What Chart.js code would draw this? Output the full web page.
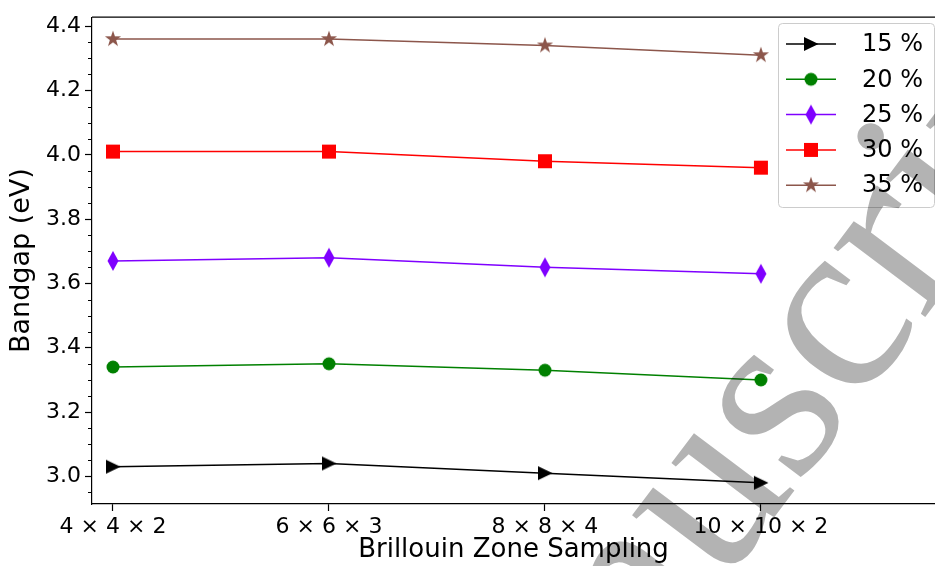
<!DOCTYPE html>
<html lang="en">
<head>
  <meta charset="UTF-8">
  <title>Bandgap vs Brillouin Zone Sampling</title>
  <script src="https://cdn.jsdelivr.net/npm/chart.js"></script>
  <style>
    body { margin: 0; background: #fff; overflow: hidden; }
  </style>
</head>
<body>

<canvas id="bandgapChart" width="935" height="566"></canvas>

<script>
// data
const categories = ['4 × 4 × 2', '6 × 6 × 3', '8 × 8 × 4', '10 × 10 × 2'];
const xPos = [0, 1, 2, 3];
const seriesLabels = ['15 %', '20 %', '25 %', '30 %', '35 %'];
const gap15 = [3.03, 3.04, 3.01, 2.98];
const gap20 = [3.34, 3.35, 3.33, 3.30];
const gap25 = [3.67, 3.68, 3.65, 3.63];
const gap30 = [4.01, 4.01, 3.98, 3.96];
const gap35 = [4.36, 4.36, 4.34, 4.31];
const yTicks = [3.0, 3.2, 3.4, 3.6, 3.8, 4.0, 4.2, 4.4];

const seriesValues = [gap15, gap20, gap25, gap30, gap35];
const colors = ['#000000', '#008000', '#7f00ff', '#ff0000', '#8c564b'];
const shapes = ['triRight', 'circle', 'thinDiamond', 'square', 'star'];
const FONT = 'DejaVu Sans';

// matplotlib-like markers drawn into small canvases
function makeMarker(shape, color) {
  var s = 24;
  var c = document.createElement('canvas');
  c.width = s; c.height = s;
  var g = c.getContext('2d');
  g.fillStyle = color;
  g.translate(s / 2, s / 2);
  g.beginPath();
  if (shape === 'triRight') {
    g.moveTo(7.5, 0); g.lineTo(-7, -7); g.lineTo(-7, 7);
  } else if (shape === 'circle') {
    g.arc(0, 0, 6.5, 0, Math.PI * 2);
  } else if (shape === 'thinDiamond') {
    g.moveTo(0, -10); g.lineTo(5.5, 0); g.lineTo(0, 10); g.lineTo(-5.5, 0);
  } else if (shape === 'square') {
    g.rect(-7, -7, 14, 14);
  } else if (shape === 'star') {
    for (var k = 0; k < 10; k++) {
      var r = k % 2 === 0 ? 8.5 : 3.3;
      var a = -Math.PI / 2 + k * Math.PI / 5;
      if (k === 0) g.moveTo(r * Math.cos(a), r * Math.sin(a));
      else g.lineTo(r * Math.cos(a), r * Math.sin(a));
    }
  }
  g.closePath();
  g.fill();
  return c;
}

var markers = shapes.map(function (sh, i) { return makeMarker(sh, colors[i]); });

var datasets = seriesValues.map(function (vals, i) {
  return {
    label: seriesLabels[i],
    data: xPos.map(function (x, j) { return { x: x, y: vals[j] }; }),
    borderColor: colors[i],
    backgroundColor: colors[i],
    borderWidth: 1.5,
    pointStyle: markers[i],
    pointRadius: 7,
    fill: false,
    tension: 0
  };
});

// spine, minor ticks, legend box and the watermark
var decorPlugin = {
  id: 'decor',
  afterDatasetsDraw: function (chart) {
    var ctx = chart.ctx, area = chart.chartArea;
    var yScale = chart.scales.y;
    ctx.save();
    // top spine
    ctx.strokeStyle = '#000';
    ctx.lineWidth = 1.2;
    ctx.beginPath();
    ctx.moveTo(area.left, area.top);
    ctx.lineTo(area.right, area.top);
    ctx.stroke();
    // minor y ticks
    ctx.lineWidth = 1;
    for (var v = 2.95; v <= 4.401; v += 0.05) {
      var q = Math.round(v * 100);
      if (q % 20 === 0) continue;
      var py = Math.round(yScale.getPixelForValue(q / 100)) + 0.5;
      ctx.beginPath();
      ctx.moveTo(area.left, py);
      ctx.lineTo(area.left - 4, py);
      ctx.stroke();
    }
    // legend
    var bx = 778, by = 23, bw = 156, bh = 184;
    ctx.fillStyle = 'rgba(255,255,255,0.8)';
    ctx.strokeStyle = '#cccccc';
    ctx.lineWidth = 1;
    ctx.beginPath();
    ctx.roundRect(bx + 0.5, by + 0.5, bw, bh, 4);
    ctx.fill();
    ctx.stroke();
    ctx.font = '24px "' + FONT + '"';
    ctx.textBaseline = 'middle';
    ctx.textAlign = 'left';
    for (var i = 0; i < seriesLabels.length; i++) {
      var ry = 44 + i * 35.3;
      ctx.strokeStyle = colors[i];
      ctx.lineWidth = 1.5;
      ctx.beginPath();
      ctx.moveTo(786, ry);
      ctx.lineTo(836, ry);
      ctx.stroke();
      ctx.drawImage(markers[i], 811 - markers[i].width / 2, ry - markers[i].height / 2);
      ctx.fillStyle = '#000';
      ctx.fillText(seriesLabels[i], 862, ry + 1);
    }
    ctx.restore();
  },
  afterDraw: function (chart) {
    var ctx = chart.ctx;
    ctx.save();
    ctx.globalCompositeOperation = 'multiply';
    ctx.fillStyle = '#b3b3b3';
    ctx.font = '250px "Liberation Serif"';
    ctx.translate(446, 953);
    ctx.rotate(-53 * Math.PI / 180);
    var pre = ctx.measureText('Accepted ').width;
    ctx.textBaseline = 'alphabetic';
    ctx.fillText('Accepted Manuscript', -pre, 0);
    ctx.restore();
  }
};

var ctx = document.getElementById('bandgapChart').getContext('2d');
new Chart(ctx, {
  type: 'line',
  data: { datasets: datasets },
  plugins: [decorPlugin],
  options: {
    responsive: false,
    animation: false,
    layout: { autoPadding: false, padding: { top: 12, right: 0, left: 0, bottom: 0 } },
    plugins: {
      legend: { display: false },
      tooltip: { enabled: false }
    },
    scales: {
      x: {
        type: 'linear',
        min: -0.0972,
        max: 3.806,
        afterBuildTicks: function (s) { s.ticks = xPos.map(function (v) { return { value: v }; }); },
        afterFit: function (s) { s.height = 62; },
        ticks: {
          color: '#000',
          font: { family: FONT, size: 22 },
          padding: 3,
          autoSkip: false,
          maxRotation: 0,
          callback: function (v) { return categories[Math.round(v)]; }
        },
        grid: { drawOnChartArea: false, drawTicks: true, tickLength: 7, tickColor: '#000', tickWidth: 1.2 },
        border: { display: true, color: '#000', width: 1.2 },
        title: {
          display: true,
          text: 'Brillouin Zone Sampling',
          color: '#000',
          font: { family: FONT, size: 26 },
          padding: { top: 0, bottom: 0 }
        }
      },
      y: {
        min: 2.914,
        max: 4.428,
        afterBuildTicks: function (s) { s.ticks = yTicks.map(function (v) { return { value: v }; }); },
        afterFit: function (s) { s.width = 92; },
        ticks: {
          color: '#000',
          font: { family: FONT, size: 22 },
          padding: 4,
          callback: function (v) { return Number(v).toFixed(1); }
        },
        grid: { drawOnChartArea: false, drawTicks: true, tickLength: 7, tickColor: '#000', tickWidth: 1.2 },
        border: { display: true, color: '#000', width: 1.2 },
        title: {
          display: true,
          text: 'Bandgap (eV)',
          color: '#000',
          font: { family: FONT, size: 27 },
          padding: { top: 6, bottom: 0 }
        }
      }
    }
  }
});
</script>

</body>
</html>
